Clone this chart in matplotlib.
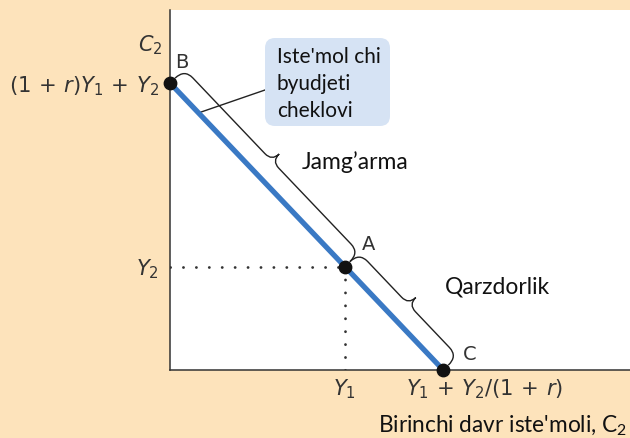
import numpy as np
import matplotlib.pyplot as plt
import matplotlib.transforms as mtransforms
from matplotlib.path import Path
from matplotlib.patches import PathPatch, FancyBboxPatch

# budget line points B, A, C (Y1 = 3.8, Y2 = 2.25, r = 0.05)
point_names = ['B', 'A', 'C']
budget_x = [0.0, 3.8, 5.94]
budget_y = [6.24, 2.25, 0.0]

x_ticks = [3.8, 5.94]
x_tick_labels = [r'$Y_1$', r'$Y_1\,+\,Y_2/(1\,+\,r)$']
y_ticks = [2.25, 6.24]
y_tick_labels = [r'$Y_2$', r'$(1\,+\,r)Y_1\,+\,Y_2$']

box_text = "Iste'mol chi\nbyudjeti\ncheklovi"
brace_labels = ['Jamg\u2019arma', 'Qarzdorlik']

PEACH = '#FDE3BB'
BLUE = '#3A79C4'
DARK = '#333333'
PX = 1 / 46.0  # one pixel in data units

plt.rcParams['font.family'] = ['Lato', 'DejaVu Sans']
plt.rcParams['mathtext.fontset'] = 'dejavusans'


def brace(ax, p0, p1, e=7, h=20, L=12, tip=30, w=10):
    p0, p1 = np.array(p0), np.array(p1)
    u = (p1 - p0) / np.hypot(*(p1 - p0))
    n = np.array([-u[1], u[0]])
    m = (p0 + p1) / 2
    e, h, L, tip, w = [v * PX for v in (e, h, L, tip, w)]
    verts = [p0 + n * e, p0 + n * h, p0 + u * L + n * h,
             m - u * w + n * h, m + n * h, m + n * tip,
             m + n * h, m + u * w + n * h,
             p1 - u * L + n * h, p1 + n * h, p1 + n * e]
    codes = [Path.MOVETO, Path.CURVE3, Path.CURVE3, Path.LINETO,
             Path.CURVE3, Path.CURVE3, Path.CURVE3, Path.CURVE3,
             Path.LINETO, Path.CURVE3, Path.CURVE3]
    ax.add_patch(PathPatch(Path(verts, codes), fill=False, lw=1.0,
                           color='#222222', zorder=2))


fig = plt.figure(figsize=(6.3, 4.38), dpi=100, facecolor=PEACH)
ax = fig.add_axes([170 / 630, 68 / 438, 460 / 630, 360 / 438])
ax.set_xlim(0, 460 * PX)
ax.set_ylim(0, 360 * PX)
ax.set_facecolor('white')
for s in ['top', 'right']:
    ax.spines[s].set_visible(False)
for s in ['left', 'bottom']:
    ax.spines[s].set_color(DARK)
    ax.spines[s].set_linewidth(1.1)

# dotted guides to A
for gx, gy in [([0, budget_x[1]], [budget_y[1], budget_y[1]]),
               ([budget_x[1], budget_x[1]], [0, budget_y[1]])]:
    ax.plot(gx, gy, color=DARK, lw=2.0, ls=(0, (0.05, 4.6)),
            dash_capstyle='round', zorder=2)

# braces
pts = list(zip(budget_x, budget_y))
brace(ax, pts[0], pts[1])
brace(ax, pts[1], pts[2])

# callout box and connector
box = FancyBboxPatch((95 * PX, 244 * PX), 125 * PX, 88 * PX,
                     boxstyle='round,pad=0,rounding_size=%f' % (10 * PX),
                     fc='#D6E3F4', ec='none', zorder=3)
ax.add_patch(box)
cx = 0.62
cy = np.interp(cx, budget_x[:2], budget_y[:2])
ax.plot([cx, 95 * PX], [cy, 280 * PX], color='#222222', lw=1.0, zorder=2)
ax.text(107 * PX, 286 * PX, box_text, fontsize=15, linespacing=1.42,
        va='center', ha='left', color='#111111', zorder=4)

# budget line
ax.plot(budget_x, budget_y, color=BLUE, lw=3.8, solid_capstyle='butt',
        zorder=5)
ax.scatter(budget_x, budget_y, s=80, color='#111111', zorder=6,
           clip_on=False)

offsets = [(12, 20), (24, 22), (26, 15)]
for name, x, y, (dx, dy) in zip(point_names, budget_x, budget_y, offsets):
    ax.annotate(name, (x, y), xytext=(dx * 0.72, dy * 0.72),
                textcoords='offset points', ha='center', va='center',
                fontsize=14, color=DARK, family='DejaVu Sans',
                annotation_clip=False)

ax.text(132 * PX, 208 * PX, brace_labels[0], fontsize=16.5, ha='left',
        va='center', color='#111111')
ax.text(275 * PX, 83 * PX, brace_labels[1], fontsize=16.5, ha='left',
        va='center', color='#111111')

ax.set_xticks(x_ticks, x_tick_labels)
ax.set_yticks(y_ticks, y_tick_labels)
ax.tick_params(length=0, labelsize=15.2, labelcolor=DARK)
ax.tick_params(axis='x', pad=5)
ax.tick_params(axis='y', pad=8)
# second x label sits right of its tick in the original
lbl = ax.get_xticklabels()[1]
lbl.set_transform(lbl.get_transform() +
                  mtransforms.ScaledTranslation(41 / 100, 0, fig.dpi_scale_trans))

ax.text(-20 * PX, 325 * PX, r'$C_2$', fontsize=15, color=DARK,
        ha='center', va='center')
fig.text(627 / 630, 1 - 426 / 438, r"Birinchi davr iste'moli, C$_\mathregular{2}$",
         fontsize=16.3, ha='right', va='center', color='#111111')

fig.savefig('out.png', dpi=100, facecolor=PEACH)
